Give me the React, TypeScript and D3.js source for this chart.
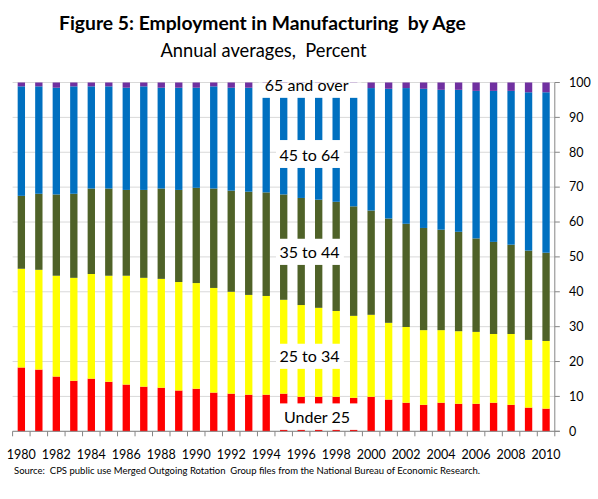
import React from "react";
import * as d3 from "d3";

const years = d3.range(1980, 2011).map(String);
const yearLabels = years.filter((_, i) => i % 2 === 0);
const seriesNames = ["Under 25", "25 to 34", "35 to 44", "45 to 64", "65 and over"];
const colors = ["#FF0000", "#FFFF00", "#4F6228", "#0070C0", "#7030A0"];

const under25 = [18.3, 17.7, 15.7, 14.5, 15.1, 14.2, 13.4, 12.8, 12.5, 11.7, 12.2, 11.1, 10.8, 10.5, 10.5, 10.8, 9.9, 9.9, 9.9, 9.6, 9.9, 9.1, 8.2, 7.6, 8.2, 7.9, 7.9, 8.2, 7.6, 6.8, 6.5];
const age25to34 = [28.3, 28.6, 28.9, 29.5, 30.0, 30.4, 31.2, 31.2, 31.2, 31.1, 30.3, 30.0, 29.2, 28.6, 28.3, 26.9, 26.3, 25.5, 24.6, 23.5, 23.5, 22.0, 21.7, 21.4, 20.8, 20.8, 20.6, 19.7, 20.3, 19.4, 19.4];
const age35to44 = [20.9, 21.8, 23.3, 24.1, 24.5, 25.0, 24.6, 25.2, 25.9, 26.4, 27.3, 28.5, 29.0, 29.6, 29.7, 30.2, 30.7, 31.0, 31.3, 31.4, 29.9, 29.9, 29.6, 29.3, 28.8, 28.5, 26.8, 26.4, 25.6, 25.6, 25.3];
const age45to64 = [31.4, 30.8, 30.6, 30.8, 29.3, 29.3, 29.3, 29.7, 28.9, 29.3, 28.7, 29.3, 29.5, 29.8, 29.9, 30.4, 31.4, 31.9, 32.5, 33.8, 35.1, 37.2, 38.9, 39.9, 40.1, 40.7, 42.3, 43.3, 44.1, 45.4, 46.0];
const age65plus = [1.1, 1.1, 1.5, 1.1, 1.1, 1.1, 1.5, 1.1, 1.5, 1.5, 1.5, 1.1, 1.5, 1.5, 1.6, 1.7, 1.7, 1.7, 1.7, 1.7, 1.6, 1.8, 1.6, 1.8, 2.1, 2.1, 2.4, 2.4, 2.4, 2.8, 2.8];
const yTicks = d3.range(0, 101, 10);

const title = "Figure 5: Employment in Manufacturing  by Age";
const subtitle = "Annual averages,  Percent";
const source = "Source:  CPS public use Merged Outgoing Rotation  Group files from the National Bureau of Economic Research.";

// label boxes: [name, topValue, bottomValue, firstYear, lastYear]
const labelBoxes: [string, number, number, string, string][] = [
  ["65 and over", 100, 95.6, "1994", "1999"],
  ["45 to 64", 83.5, 75.5, "1995", "1998"],
  ["35 to 44", 55.2, 47.7, "1995", "1998"],
  ["25 to 34", 25.1, 17.9, "1995", "1998"],
  ["Under 25", 8.0, 0.4, "1995", "1999"],
];

const FONT = "Lato, 'Open Sans', sans-serif";

export default function App() {
  const W = 598, H = 499;
  const left = 12.6, right = 554.8, top = 82.5, bottom = 431.3;
  const x = d3.scaleBand<string>().domain(years).range([left, right]).paddingInner(0.58).paddingOuter(0.29);
  const y = d3.scaleLinear().domain([0, 100]).range([bottom, top]);

  const rows = years.map((yr, i) => ({
    year: yr,
    "Under 25": under25[i],
    "25 to 34": age25to34[i],
    "35 to 44": age35to44[i],
    "45 to 64": age45to64[i],
    "65 and over": age65plus[i],
  }));
  const stack = d3.stack<any>().keys(seriesNames)(rows);
  const step = x.step();
  const edges = d3.range(years.length + 1).map((i) => left + i * step);
  const pre = { whiteSpace: "pre" } as React.CSSProperties;

  return (
    <svg width={W} height={H} style={{ position: "absolute", left: 0, top: 0, fontFamily: FONT }}>
      <rect width={W} height={H} fill="#fff" />
      <text x={262.5} y={30} textAnchor="middle" fontWeight="bold" fontSize={19.3} fill="#000" style={pre}>{title}</text>
      <text x={263.5} y={57} textAnchor="middle" fontSize={18.3} fill="#000" style={pre}>{subtitle}</text>

      {yTicks.map((t) => (
        <line key={"g" + t} x1={left} x2={right} y1={y(t)} y2={y(t)} stroke="#d9d9d9" strokeWidth={1} />
      ))}

      {stack.map((s, si) => (
        <g key={s.key} fill={colors[si]}>
          {s.map((d: any) => (
            <rect key={d.data.year} x={x(d.data.year)} width={x.bandwidth()} y={y(Math.min(d[1], 100))} height={y(d[0]) - y(Math.min(d[1], 100))} />
          ))}
        </g>
      ))}

      {labelBoxes.map(([name, t, b, y0, y1]) => {
        const x0 = (x(y0) as number) - 4;
        const x1 = (x(y1) as number) + x.bandwidth() + 4;
        const cx = name === "65 and over" ? 306.7 : name === "Under 25" ? 317 : 309.5;
        return (
          <g key={name}>
            <rect x={x0} y={y(t)} width={x1 - x0} height={y(b) - y(t)} fill="#fff" />
            <text x={cx} y={y(b) - 6.5} textAnchor="middle" fontSize={16} fill="#000">{name}</text>
          </g>
        );
      })}

      <line x1={right} x2={right} y1={top} y2={bottom} stroke="#868686" />
      {yTicks.map((t) => (
        <g key={"yt" + t}>
          <line x1={right} x2={right + 5} y1={y(t)} y2={y(t)} stroke="#868686" />
          <text x={569} y={y(t) + 4.3} fontSize={12.5} fill="#000">{t}</text>
        </g>
      ))}
      <line x1={left} x2={right + 5} y1={bottom} y2={bottom} stroke="#868686" />
      {edges.map((e, i) => (
        <line key={"xt" + i} x1={e} x2={e} y1={bottom} y2={bottom + 5} stroke="#868686" />
      ))}
      {yearLabels.map((yr) => (
        <text key={yr} x={(x(yr) as number) + x.bandwidth() / 2} y={459} textAnchor="middle" fontSize={12.5} fill="#000">{yr}</text>
      ))}
      <text x={14} y={474} fontSize={10} fill="#000" textLength={466} lengthAdjust="spacingAndGlyphs" style={pre}>{source}</text>
    </svg>
  );
}
